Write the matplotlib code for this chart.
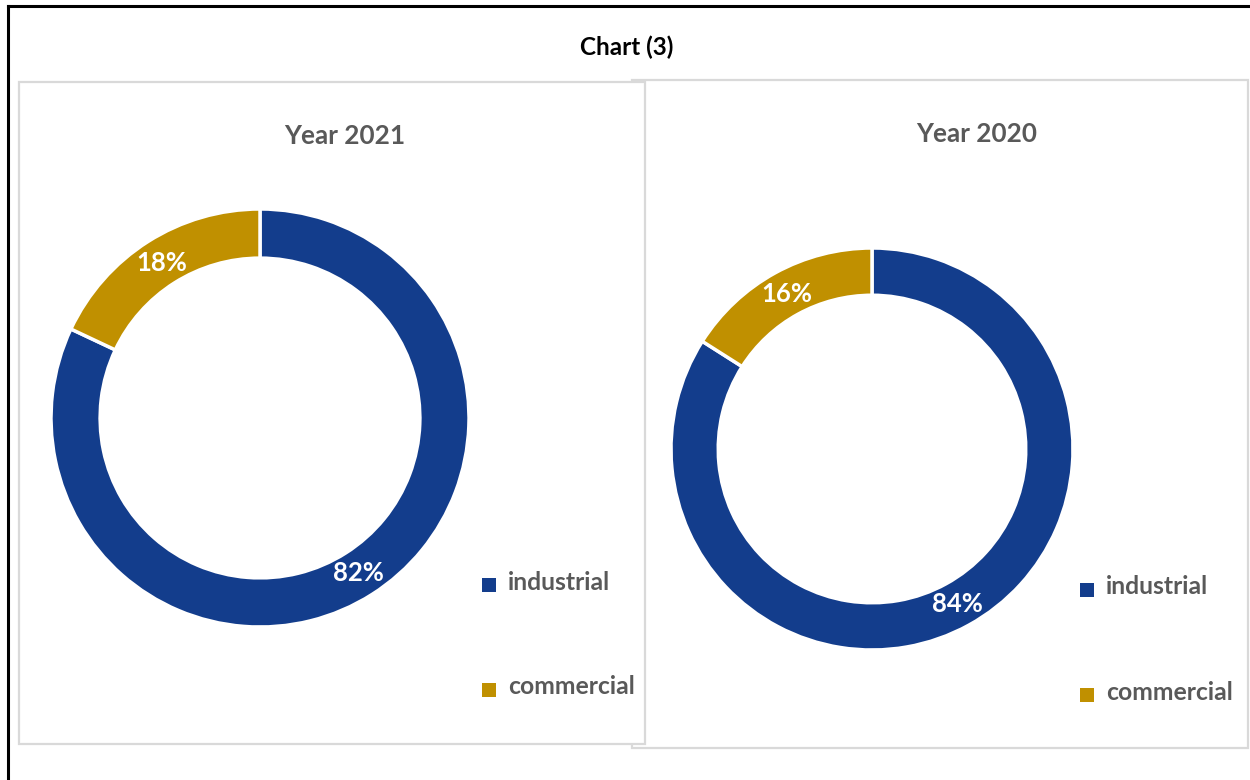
import matplotlib.pyplot as plt
from matplotlib.patches import Rectangle

W, H = 1250, 780

categories = ["industrial", "commercial"]
colors = ["#133D8C", "#C09000"]
years = ["Year 2021", "Year 2020"]
shares_2021 = [82, 18]
shares_2020 = [84, 16]

plt.rcParams['font.family'] = ['Lato', 'DejaVu Sans']


def fx(x):
    return x / W


def fy(y):
    return 1 - y / H


def box(fig, x0, y0, x1, y1, color, lw, fill=None, z=0):
    r = Rectangle((fx(x0), fy(y1)), fx(x1) - fx(x0), fy(y0) - fy(y1),
                  transform=fig.transFigure, facecolor=fill or 'none',
                  edgecolor=color, linewidth=lw, zorder=z)
    fig.patches.append(r)


def donut(fig, cx, cy, r, vals, title, tx, ty, legx, legy):
    ax = fig.add_axes([fx(cx - r), fy(cy + r), 2 * r / W, 2 * r / H])
    ax.set_zorder(3)
    wedges, _, autotexts = ax.pie(vals, colors=colors, startangle=90, counterclock=False,
                                  autopct='%1.0f%%', pctdistance=0.88,
                                  wedgeprops=dict(width=0.235, edgecolor='white', linewidth=2.5))
    for t in autotexts:
        t.set_color('white')
        t.set_fontsize(18.5)
        t.set_fontweight('bold')
    for w in wedges:
        w.set_clip_on(False)
    ax.set_xlim(-1, 1)
    ax.set_ylim(-1, 1)
    ax.set_aspect('equal')
    ax.axis('off')
    fig.text(fx(tx), fy(ty), title, ha='center', va='center', fontsize=18.8,
             fontweight='bold', color='#595959', zorder=4)
    for i, (lab, col) in enumerate(zip(categories, colors)):
        yy = legy + i * 105
        fig.patches.append(Rectangle((fx(legx - 7), fy(yy + 7)), 14 / W, 14 / H,
                                     transform=fig.transFigure, facecolor=col,
                                     edgecolor='none', zorder=4))
        fig.text(fx(legx + 19), fy(yy - 3), lab, ha='left', va='center', fontsize=17.8,
                 fontweight='bold', color='#595959', zorder=4)


fig = plt.figure(figsize=(12.5, 7.8), dpi=100)

# outer frame
fig.add_artist(plt.Line2D([fx(8), fx(8)], [fy(6), 0], transform=fig.transFigure,
                          color='black', linewidth=2.2))
fig.add_artist(plt.Line2D([fx(8), 1], [fy(6), fy(6)], transform=fig.transFigure,
                          color='black', linewidth=2.2))

# chart boxes
box(fig, 632, 80, 1248, 748, '#D9D9D9', 1.6, fill='white', z=1)
box(fig, 19, 82, 645, 744, '#D9D9D9', 1.6, fill='white', z=2)

fig.text(fx(627), fy(47), "Chart (3)", ha='center', va='center', fontsize=17.5,
         fontweight='bold', color='black')

donut(fig, 260, 418, 209, shares_2021, years[0], 345, 136, 489, 585)
donut(fig, 872, 449, 201, shares_2020, years[1], 977, 134, 1087, 590)

fig.savefig('out.png', dpi=100)
